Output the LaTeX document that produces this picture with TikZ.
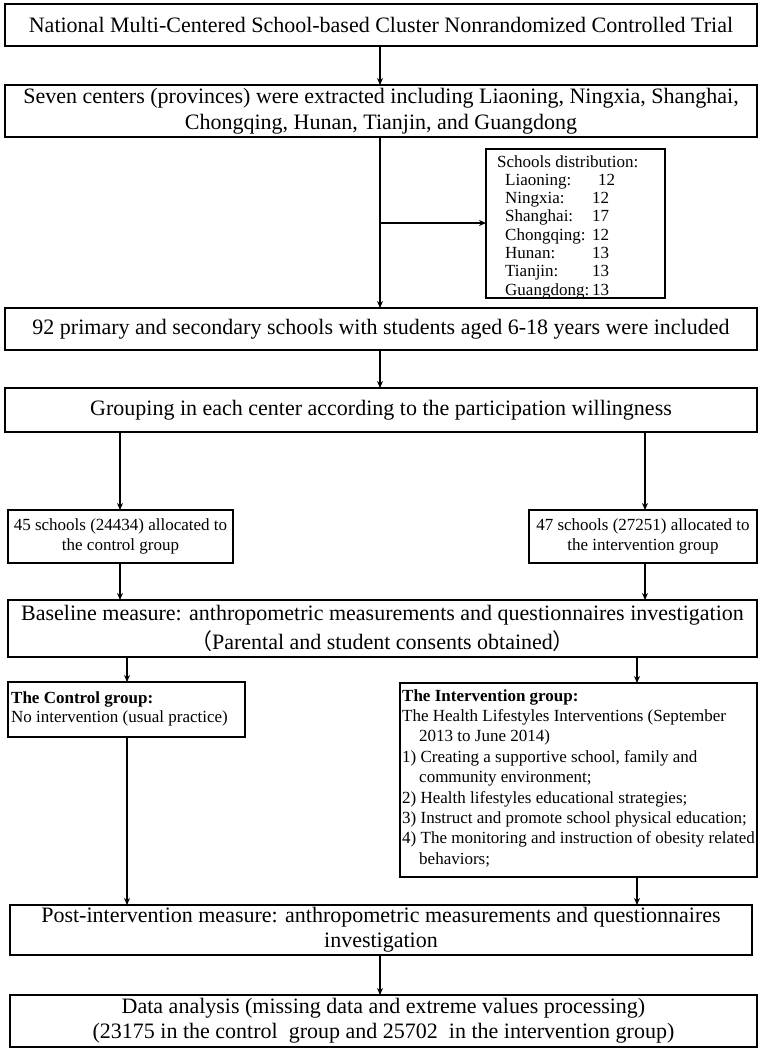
\documentclass[tikz,border=0pt]{standalone}
\usepackage{fontspec}
\setmainfont{Liberation Serif}
\newfontfamily\cjk{Noto Sans CJK SC}
\usetikzlibrary{arrows.meta,calc}
\begin{document}
\begin{tikzpicture}[x=1pt,y=-1pt,
  box/.style={draw, line width=1.6pt, inner sep=0pt, outer sep=0pt},
  bigtxt/.style={font=\fontsize{22}{26}\selectfont, align=center},
  smalltxt/.style={font=\fontsize{17}{19.5}\selectfont},
  arr/.style={line width=1.3pt, -{Stealth[length=7pt,width=6pt]}},
  ln/.style={line width=1.3pt}]
\useasboundingbox (0,0) rectangle (766,1053);
\fill[white] (0,0) rectangle (766,1053);

\node[box,bigtxt,minimum width=752pt,minimum height=42pt] (b1) at (381,25)
  {National Multi-Centered School-based Cluster Nonrandomized Controlled Trial};
\node[box,bigtxt,minimum width=752pt,minimum height=52pt] (b2) at (381,111)
  {Seven centers (provinces) were extracted including Liaoning, Ningxia, Shanghai,\\Chongqing, Hunan, Tianjin, and Guangdong};
\node[box,minimum width=179pt,minimum height=149pt] (sch) at (575.5,223.5) {};
\node[anchor=north west,inner sep=0pt,font=\fontsize{17}{18.3}\selectfont,align=left] (schtxt) at (497,155)
  {Schools distribution:\\
   \hspace*{8pt}\makebox[87pt][l]{Liaoning:}\hspace*{6pt}12\\
   \hspace*{8pt}\makebox[87pt][l]{Ningxia:}12\\
   \hspace*{8pt}\makebox[87pt][l]{Shanghai:}17\\
   \hspace*{8pt}\makebox[87pt][l]{Chongqing:}12\\
   \hspace*{8pt}\makebox[87pt][l]{Hunan:}13\\
   \hspace*{8pt}\makebox[87pt][l]{Tianjin:}13\\
   \hspace*{8pt}\makebox[87pt][l]{Guangdong:}13};
\node[box,bigtxt,minimum width=752pt,minimum height=42pt] (b3) at (381,329)
  {92 primary and secondary schools with students aged 6-18 years were included};
\node[box,bigtxt,minimum width=752pt,minimum height=44pt] (b4) at (381,410)
  {Grouping in each center according to the participation willingness};
\node[box,smalltxt,align=center,minimum width=225pt,minimum height=53pt] (ca) at (120.5,536.5)
  {45 schools (24434) allocated to\\the control group};
\node[box,smalltxt,align=center,minimum width=228pt,minimum height=53pt] (ia) at (643,536.5)
  {47 schools (27251) allocated to\\the intervention group};
\node[box,font=\fontsize{22}{29}\selectfont,align=center,minimum width=749pt,minimum height=57pt] (b5) at (382.5,628.5)
  {Baseline measure: anthropometric measurements and questionnaires investigation\\{\cjk （}Parental and student consents obtained{\cjk ）}};
\node[box,minimum width=237pt,minimum height=55pt] (cg) at (126.5,709.5) {};
\node[anchor=west,inner sep=0pt,smalltxt,align=left] (cgtxt) at (11,709)
  {\textbf{The Control group:}\\No intervention (usual practice)};
\node[box,minimum width=357pt,minimum height=194pt] (ig) at (578.5,780) {};
\node[anchor=north west,inner sep=0pt,font=\fontsize{17}{20.4}\selectfont,align=left] (igtxt) at (402,689)
  {\textbf{The Intervention group:}\\
   The Health Lifestyles Interventions (September\\
   \hspace*{1em}2013 to June 2014)\\
   1) Creating a supportive school, family and\\
   \hspace*{1em}community environment;\\
   2) Health lifestyles educational strategies;\\
   3) Instruct and promote school physical education;\\
   4) The monitoring and instruction of obesity related\\
   \hspace*{1em}behaviors;};
\node[box,bigtxt,minimum width=742pt,minimum height=50pt,font=\fontsize{22}{25}\selectfont] (b6) at (381,930)
  {Post-intervention measure: anthropometric measurements and questionnaires\\investigation};
\node[box,bigtxt,minimum width=747pt,minimum height=52pt,font=\fontsize{22}{25}\selectfont] (b7) at (383.5,1021)
  {Data analysis (missing data and extreme values processing)\\(23175 in the control\ \ group and 25702\ \ in the intervention group)};

\coordinate (xm) at (380,0);
\coordinate (xca) at (120,0);
\coordinate (xia) at (645,0);
\coordinate (xcg) at (127,0);
\coordinate (xig) at (637,0);
\coordinate (br) at (380,223);

\draw[arr] (b1.south -| xm) -- (b2.north -| xm);
\draw[arr] (b2.south -| xm) -- (b3.north -| xm);
\draw[arr] (br) -- (br -| sch.west);
\draw[arr] (b3.south -| xm) -- (b4.north -| xm);
\draw[arr] (b4.south -| xca) -- (ca.north -| xca);
\draw[arr] (b4.south -| xia) -- (ia.north -| xia);
\draw[arr] (ca.south -| xca) -- (b5.north -| xca);
\draw[arr] (ia.south -| xia) -- (b5.north -| xia);
\draw[arr] (b5.south -| xcg) -- (cg.north -| xcg);
\draw[arr] (b5.south -| xig) -- (ig.north -| xig);
\draw[arr] (cg.south -| xcg) -- (b6.north -| xcg);
\draw[arr] (ig.south -| xig) -- (b6.north -| xig);
\draw[arr] (b6.south -| xm) -- (b7.north -| xm);
\end{tikzpicture}
\end{document}
